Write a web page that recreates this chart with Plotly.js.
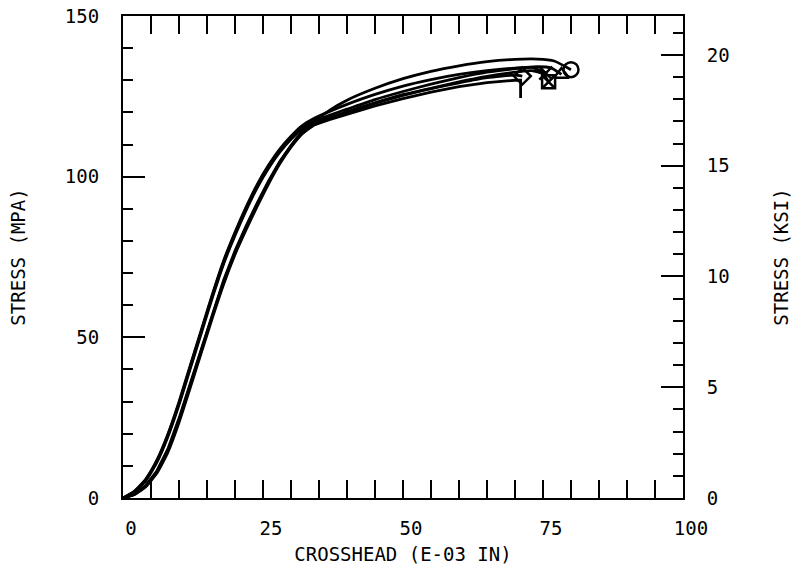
<!DOCTYPE html>
<html>
<head>
<meta charset="utf-8">
<script src="https://cdn.plot.ly/plotly-3.0.1.min.js"></script>
<style>
  html, body { margin: 0; padding: 0; background: #fff; }
  #chart { width: 793px; height: 580px; }
</style>
</head>
<body>
<div id="chart"></div>
<script>
// Crosshead displacement (E-03 in) and stress (MPa) for each specimen
const specimenAX = [0,2,4,6,8,10,12,14,16,18,20,22,24,26,28,30,32,34,37,40,45,50,55,60,65,70,74,77,80];
const specimenAY = [0,1.1,3.6,8.0,14.8,24.2,35.0,46.0,57.0,67.2,76.3,84.3,91.4,98.3,104.5,109.7,114.0,117.0,120.8,123.8,127.5,130.5,132.8,134.5,135.8,136.5,136.6,136.0,133.3];

const specimenBX = [0,2,4,6,8,10,12,14,16,18,20,22,24,26,28,30,32,34,37,40,45,50,55,60,65,70,74,76.5,78.3];
const specimenBY = [0,2.0,5.5,11.3,19.5,29.5,40.8,52.0,63.2,73.6,82.3,90.2,97.3,103.2,108.2,112.2,115.3,117.2,119.2,121.0,124.0,126.5,128.8,130.8,132.5,133.6,134.2,133.8,131.8];

const specimenCX = [0,2,4,6,8,10,12,14,16,18,20,22,24,26,28,30,32,34,37,40,45,50,55,60,65,70,73,75,76];
const specimenCY = [0,1.0,3.4,7.6,14.2,23.5,34.3,45.3,56.3,66.7,75.8,83.6,90.9,97.8,104.0,109.2,113.4,116.0,118.3,120.2,123.0,125.5,127.5,129.5,131.2,132.5,133.0,132.0,129.5];

const specimenDX = [0,2,4,6,8,10,12,14,16,18,20,22,24,26,28,30,32,34,37,40,45,50,55,60,65,70,71.3];
const specimenDY = [0,1.8,5.2,10.9,19.0,29.0,40.2,51.4,62.6,73.0,81.7,89.6,96.7,102.6,107.6,111.6,114.8,116.6,118.4,120.1,122.8,125.3,127.4,129.2,130.8,131.6,131.3];

const specimenEX = [0,2,4,6,8,10,12,14,16,18,20,22,24,26,28,30,32,34,37,40,45,50,55,60,65,70,71,71];
const specimenEY = [0,1.2,3.8,8.3,15.2,24.8,35.6,46.6,57.6,67.9,76.9,84.7,91.9,98.7,104.7,109.6,113.5,116.0,117.8,119.4,122.0,124.3,126.3,128.0,129.3,130.0,130.0,124.5];

const specimenFX = [0,2,4,6,8,10,12,14,16,18,20,22,24,26,28,30,32,34,37,40,45,50,55,60,65,70,73,75.5];
const specimenFY = [0,2.1,5.7,11.6,19.8,29.9,41.2,52.4,63.6,74.0,82.7,90.6,97.7,103.6,108.6,112.6,115.9,118.0,120.4,122.5,125.6,128.2,130.2,131.8,133.0,133.8,134.0,132.2];

const endSymbols = ['circle-open', 'triangle-up-open', 'square-x-open', 'diamond-open', '', 'x-thin-open'];
const lineShapes = ['spline', 'spline', 'spline', 'spline', 'linear', 'spline'];

const xTickVals = [0, 25, 50, 75, 100];
const xTickText = ['0', '25', '50', '75', '100'];
const yTickVals = [0, 50, 100, 150];
const yTickText = ['0', '50', '100', '150'];
const ksiTickVals = [0, 5, 10, 15, 20];
const ksiTickText = ['0', '5', '10', '15', '20'];

const MPA_PER_KSI = 6.894757;
const FONT = 'DejaVu Sans Mono, Liberation Mono, monospace';

const series = [
  [specimenAX, specimenAY], [specimenBX, specimenBY], [specimenCX, specimenCY],
  [specimenDX, specimenDY], [specimenEX, specimenEY], [specimenFX, specimenFY]
];

const traces = [];
series.forEach(([xs, ys], i) => {
  traces.push({
    x: xs, y: ys, type: 'scatter', mode: 'lines',
    line: { color: '#000', width: 2.8, shape: lineShapes[i], smoothing: 0.5 },
    hoverinfo: 'skip', showlegend: false
  });
  if (endSymbols[i]) {
    traces.push({
      x: [xs[xs.length - 1]], y: [ys[ys.length - 1]], type: 'scatter', mode: 'markers',
      marker: { symbol: endSymbols[i], size: i === 0 ? 15 : 13, color: '#000', line: { color: '#000', width: 2.5 } },
      hoverinfo: 'skip', showlegend: false
    });
  }
});
// same data in ksi, invisible, to carry the right-hand axis
traces.push({
  x: specimenAX, y: specimenAY.map(v => v / MPA_PER_KSI), yaxis: 'y2',
  type: 'scatter', mode: 'lines', opacity: 0, line: { width: 0 },
  hoverinfo: 'skip', showlegend: false
});

const tickFont = { family: FONT, size: 19, color: '#000' };

const layout = {
  width: 793, height: 580,
  margin: { l: 123, r: 110, t: 16, b: 82 },
  paper_bgcolor: '#fff', plot_bgcolor: '#fff',
  font: { family: FONT, size: 19, color: '#000' },
  showlegend: false,
  xaxis: {
    range: [0, 100], showgrid: false, zeroline: false,
    showline: true, linecolor: '#000', linewidth: 2, mirror: 'allticks',
    ticks: 'inside', ticklen: 18, tickwidth: 2, tickcolor: '#000',
    tickvals: xTickVals, ticktext: xTickText, tickfont: tickFont,
    ticklabelstandoff: 12, ticklabelshift: 8,
    minor: { dtick: 5, ticks: 'inside', ticklen: 9, tickwidth: 2, tickcolor: '#000', showgrid: false },
    title: { text: 'CROSSHEAD (E-03 IN)', font: { family: FONT, size: 19, color: '#000' }, standoff: 10 }
  },
  yaxis: {
    range: [0, 150], showgrid: false, zeroline: false,
    showline: true, linecolor: '#000', linewidth: 2, mirror: false,
    ticks: 'inside', ticklen: 22, tickwidth: 2, tickcolor: '#000',
    tickvals: yTickVals, ticktext: yTickText, tickfont: tickFont,
    ticklabelstandoff: 18,
    minor: { dtick: 10, ticks: 'inside', ticklen: 10, tickwidth: 2, tickcolor: '#000', showgrid: false },
    title: { text: 'STRESS (MPA)', font: { family: FONT, size: 19, color: '#000' }, standoff: 34 }
  },
  yaxis2: {
    overlaying: 'y', side: 'right', anchor: 'x',
    range: [0, 150 / MPA_PER_KSI], showgrid: false, zeroline: false,
    showline: true, linecolor: '#000', linewidth: 2,
    ticks: 'inside', ticklen: 22, tickwidth: 2, tickcolor: '#000',
    tickvals: ksiTickVals, ticktext: ksiTickText, tickfont: tickFont,
    ticklabelstandoff: 18,
    minor: { dtick: 1, ticks: 'inside', ticklen: 10, tickwidth: 2, tickcolor: '#000', showgrid: false },
    title: { text: 'STRESS (KSI)', font: { family: FONT, size: 19, color: '#000' }, standoff: 46 }
  }
};

Plotly.newPlot('chart', traces, layout, { staticPlot: true, displayModeBar: false });
</script>
</body>
</html>
